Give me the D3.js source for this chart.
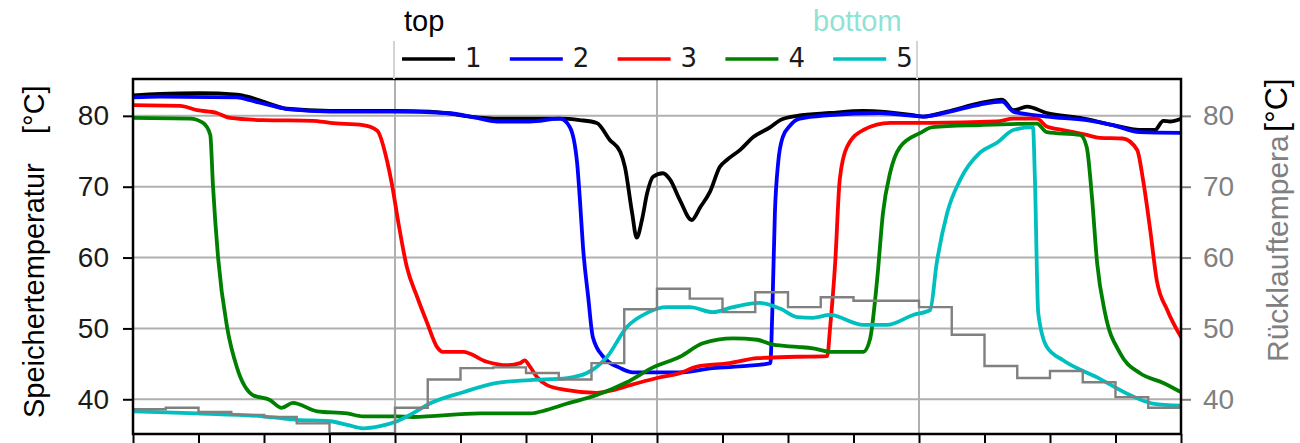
<!DOCTYPE html>
<html>
<head>
<meta charset="utf-8">
<script src="https://cdn.jsdelivr.net/npm/d3@7"></script>
<style>
  html, body { margin: 0; padding: 0; background: #fff; }
  svg { display: block; }
</style>
</head>
<body>
<svg id="chart" width="1300" height="443"></svg>
<script>
// Storage temperatures at five heights (1 = top ... 5 = bottom), time in x units
const s1 = [[0,82.9],[0.41,83.1],[1.02,83.2],[1.59,83.0],[1.79,82.6],[2.02,81.9],[2.35,81.0],[3.01,80.7],[4.0,80.7],[4.53,80.6],[4.84,80.3],[5.15,79.9],[5.6,79.6],[6.52,79.6],[6.82,79.4],[7.08,79.0],[7.28,76.6],[7.44,74.9],[7.51,72.8],[7.62,66.3],[7.69,62.8],[7.77,65.3],[7.85,69.1],[7.94,71.4],[8.09,71.9],[8.2,71.0],[8.35,68.1],[8.53,65.3],[8.66,67.1],[8.81,69.3],[8.96,72.8],[9.07,73.8],[9.27,75.2],[9.47,77.0],[9.73,78.4],[9.88,79.4],[10.14,80.0],[10.64,80.4],[11.15,80.7],[11.91,80.1],[12.06,79.9],[12.43,80.6],[12.93,81.8],[13.27,82.3],[13.44,80.8],[13.65,81.3],[13.95,80.4],[14.46,79.7],[14.96,78.7],[15.37,78.0],[15.6,78.0],[15.73,79.3],[15.83,79.2],[16,79.6]];

const s2 = [[0,82.6],[0.41,82.7],[1.59,82.6],[1.79,82.2],[2.09,81.5],[2.4,80.9],[3.01,80.6],[4.0,80.6],[4.79,80.4],[5.3,79.6],[5.56,79.2],[6.06,79.2],[6.52,79.6],[6.67,78.4],[6.78,73.4],[6.82,68.6],[6.87,61.5],[6.95,54.4],[7.02,48.8],[7.18,46.0],[7.44,44.4],[7.63,43.8],[8.35,43.8],[8.85,44.4],[9.37,44.7],[9.73,45.1],[9.76,52.2],[9.8,66.3],[9.85,73.4],[9.92,77.0],[10.03,78.6],[10.18,79.6],[10.64,80.1],[11.4,80.4],[11.91,80.0],[12.06,79.9],[12.43,80.5],[12.93,81.6],[13.27,82.0],[13.44,80.6],[13.95,79.9],[14.56,79.4],[14.96,78.7],[15.37,77.7],[16,77.6]];

const s3 = [[0,81.5],[0.72,81.4],[0.98,80.8],[1.28,80.4],[1.48,79.7],[1.98,79.4],[2.75,79.3],[3.01,79.0],[3.51,78.7],[3.73,77.9],[3.88,73.6],[3.95,70.5],[4.05,65.0],[4.18,58.7],[4.34,54.4],[4.49,50.8],[4.64,47.4],[4.73,46.7],[5.04,46.7],[5.4,45.3],[5.71,44.8],[5.91,45.1],[5.98,45.5],[6.06,44.6],[6.17,43.1],[6.32,42.0],[6.63,41.3],[7.08,40.9],[7.33,41.3],[7.59,42.0],[8.0,43.0],[8.35,43.7],[8.61,44.6],[9.11,45.1],[9.53,45.8],[10.14,46.0],[10.6,46.1],[10.64,49.8],[10.72,59.2],[10.79,71.0],[10.9,75.6],[11.15,78.0],[11.56,79.0],[12.17,79.0],[13.19,79.2],[13.44,79.6],[13.8,79.6],[13.95,78.5],[14.2,78.0],[14.56,77.3],[14.76,76.9],[15.11,76.8],[15.33,75.2],[15.42,71.0],[15.53,63.9],[15.63,56.8],[15.79,52.6],[16,48.8]];

const s4 = [[0,79.7],[0.87,79.6],[1.07,79.0],[1.18,77.3],[1.22,70.3],[1.3,59.9],[1.44,50.0],[1.59,44.4],[1.83,40.6],[2.09,39.9],[2.27,38.8],[2.44,39.5],[2.81,38.3],[3.27,38.0],[3.51,37.6],[4.03,37.6],[4.27,37.5],[5.3,38.0],[6.06,38.0],[6.32,38.5],[6.63,39.4],[7.08,40.6],[7.54,42.4],[7.94,44.5],[8.35,46.0],[8.7,47.9],[9.16,48.6],[9.53,48.4],[9.77,47.7],[10.14,47.4],[10.38,47.2],[10.64,46.7],[11.15,46.7],[11.25,48.4],[11.36,56.8],[11.45,66.3],[11.56,72.0],[11.71,75.6],[12.02,77.6],[12.21,78.4],[12.93,78.7],[13.8,78.9],[13.95,77.7],[14.46,77.3],[14.56,75.6],[14.64,68.6],[14.72,59.2],[14.84,52.2],[15.07,46.5],[15.37,43.7],[15.73,42.3],[16,41.0]];

const s5 = [[0,38.3],[0.98,38.0],[1.98,37.6],[2.5,37.1],[3.01,36.9],[3.27,36.4],[3.51,35.9],[3.77,36.2],[4.03,36.9],[4.27,38.0],[4.53,39.4],[5.04,41.0],[5.56,42.3],[6.06,42.7],[6.63,43.0],[6.93,43.7],[7.24,46.0],[7.54,50.2],[7.85,52.2],[8.15,53.0],[8.5,53.0],[8.85,52.3],[9.16,53.0],[9.57,53.6],[9.88,52.8],[10.14,51.6],[10.38,51.5],[10.64,51.9],[11.15,50.5],[11.51,50.5],[11.91,51.9],[12.17,52.6],[12.27,59.2],[12.43,66.3],[12.63,71.0],[12.93,74.8],[13.19,76.2],[13.44,78.0],[13.74,78.4],[13.77,71.0],[13.82,52.2],[13.95,47.4],[14.2,45.5],[14.72,43.1],[15.22,40.6],[15.57,39.4],[16,39.1]];

// Return temperature, one value per half-unit interval (step plot)
const returnStart = d3.range(0, 16, 0.5);
const returnTemp = [38.6,38.8,38.2,37.8,37.5,36.6,35.2,35.2,38.8,42.8,44.4,44.5,43.7,42.8,45.1,52.7,55.6,54.2,52.3,55.1,53.0,54.4,53.9,53.9,53.0,49.1,44.7,43.0,44.0,42.4,40.3,38.8];

const seriesNames = ["1","2","3","4","5"];
const seriesColors = ["#000000","#0000ff","#ff0000","#008000","#00bfbf"];
const seriesData = [s1, s2, s3, s4, s5];

const leftTicks = [40,50,60,70,80];
const xTicks = d3.range(0, 17, 1);
const xGrid = [4, 8, 12];

const svg = d3.select("#chart");
const L = 133, R = 1181, T = 79, B = 434;

const x = d3.scaleLinear().domain([0, 16]).range([L, R]);
const y = d3.scaleLinear().domain([35.1, 85.2]).range([B, T]);
const yR = d3.scaleLinear().domain([35.1, 85.2]).range([B, T]);

const SANS = "'Liberation Sans', Arial, sans-serif";
const DEJAVU = "'DejaVu Sans', sans-serif";

svg.append("defs").append("clipPath").attr("id", "plot")
  .append("rect").attr("x", L).attr("y", T).attr("width", R - L).attr("height", B - T);

// grid
const grid = svg.append("g").attr("stroke", "#b0b0b0").attr("stroke-width", 2);
grid.selectAll("line.h").data(leftTicks).join("line").attr("class", "h")
  .attr("x1", L).attr("x2", R).attr("y1", d => y(d)).attr("y2", d => y(d));
grid.selectAll("line.v").data(xGrid).join("line").attr("class", "v")
  .attr("x1", d => x(d)).attr("x2", d => x(d)).attr("y1", T).attr("y2", B);

// data lines
const plot = svg.append("g").attr("clip-path", "url(#plot)");
const line = d3.line().x(d => x(d[0])).y(d => y(d[1])).curve(d3.curveMonotoneX);
seriesData.forEach((s, i) => {
  plot.append("path").datum(s).attr("d", line)
    .attr("fill", "none").attr("stroke", seriesColors[i])
    .attr("stroke-width", 3.8).attr("stroke-linejoin", "round").attr("stroke-linecap", "round");
});

// return temperature step line (right axis)
const stepPts = returnStart.map((t, i) => [t, returnTemp[i]]);
stepPts.push([16, returnTemp[returnTemp.length - 1]]);
plot.append("path").datum(stepPts)
  .attr("d", d3.line().x(d => x(d[0])).y(d => yR(d[1])).curve(d3.curveStepAfter))
  .attr("fill", "none").attr("stroke", "#808080").attr("stroke-width", 2.4);

// axes
const axL = svg.append("g").attr("transform", `translate(${L},0)`)
  .call(d3.axisLeft(y).tickValues(leftTicks).tickSize(10).tickPadding(14).tickFormat(d3.format("d")));
axL.select(".domain").remove();
axL.selectAll(".tick line").attr("stroke", "#000").attr("stroke-width", 2);
axL.selectAll(".tick text").attr("font-family", SANS).attr("font-size", 28).attr("fill", "#1a1a1a");

const axR = svg.append("g").attr("transform", `translate(${R},0)`)
  .call(d3.axisRight(yR).tickValues(leftTicks).tickSize(10).tickPadding(12).tickFormat(d3.format("d")));
axR.select(".domain").remove();
axR.selectAll(".tick line").attr("stroke", "#808080").attr("stroke-width", 2);
axR.selectAll(".tick text").attr("font-family", SANS).attr("font-size", 28).attr("fill", "#808080");

const axB = svg.append("g").attr("transform", `translate(0,${B})`)
  .call(d3.axisBottom(x).tickValues(xTicks).tickSize(10).tickFormat(""));
axB.select(".domain").remove();
axB.selectAll(".tick line").attr("stroke", "#000").attr("stroke-width", 2);

// frame
svg.append("rect").attr("x", L).attr("y", T).attr("width", R - L).attr("height", B - T)
  .attr("fill", "none").attr("stroke", "#000").attr("stroke-width", 2.5);

// axis titles
const lt = svg.append("g").attr("transform", "translate(44,0) rotate(-90)")
  .attr("font-family", SANS).attr("font-size", 29).attr("fill", "#000");
lt.append("text").attr("x", -418).attr("y", 0).text("Speichertemperatur");
lt.append("text").attr("x", -134).attr("y", 0).text("[°C]");

const rt = svg.append("g").attr("transform", "translate(1288,0) rotate(-90)")
  .attr("font-family", SANS);
rt.append("text").attr("x", -362).attr("y", 0).attr("font-size", 30).attr("fill", "#808080").text("Rücklauftempera");
rt.append("text").attr("x", -132).attr("y", -1).attr("font-size", 32).attr("fill", "#000").text("[°C]");

// legend
const lg = svg.append("g");
lg.append("line").attr("x1", 394).attr("x2", 394).attr("y1", 41).attr("y2", T)
  .attr("stroke", "#d4d4d4").attr("stroke-width", 2);
lg.append("line").attr("x1", 917).attr("x2", 917).attr("y1", 41).attr("y2", T)
  .attr("stroke", "#d4d4d4").attr("stroke-width", 2);
seriesNames.forEach((n, i) => {
  const x0 = 402 + i * 107.8;
  lg.append("line").attr("x1", x0).attr("x2", x0 + 53).attr("y1", 59).attr("y2", 59)
    .attr("stroke", seriesColors[i]).attr("stroke-width", 3.5);
  lg.append("text").attr("x", x0 + 63).attr("y", 67)
    .attr("font-family", DEJAVU).attr("font-size", 26).attr("fill", "#1a1a1a").text(n);
});
svg.append("text").attr("x", 404).attr("y", 31)
  .attr("font-family", SANS).attr("font-size", 29).attr("fill", "#000").text("top");
svg.append("text").attr("x", 813).attr("y", 31)
  .attr("font-family", SANS).attr("font-size", 29).attr("fill", "#8fe3d3").text("bottom");
</script>
</body>
</html>
